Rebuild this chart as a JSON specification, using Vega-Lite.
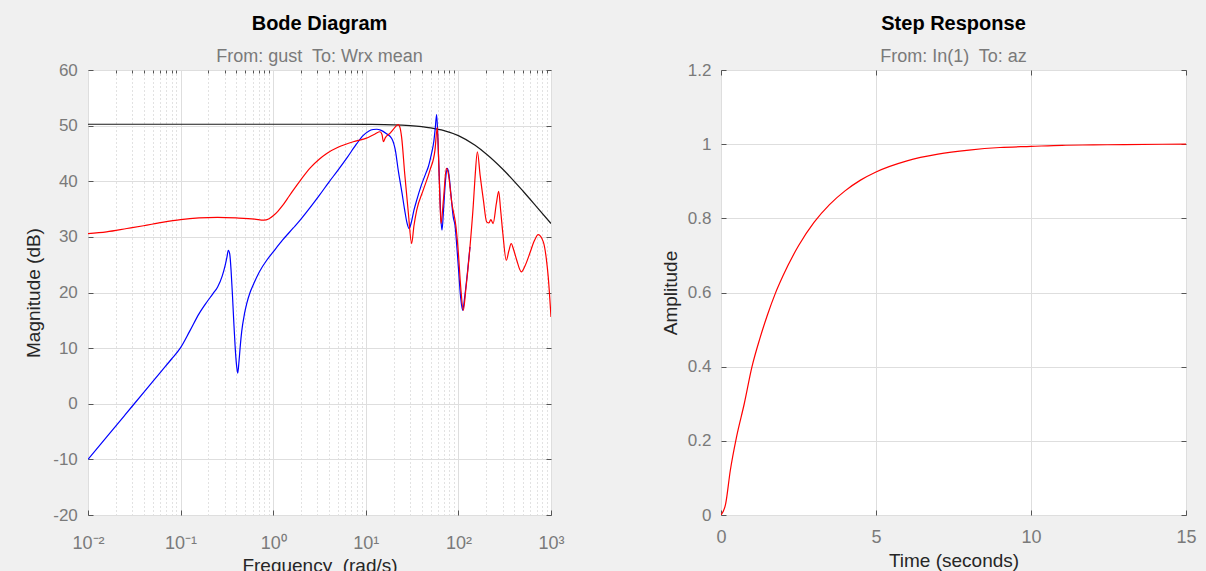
{
  "$schema": "https://vega.github.io/schema/vega-lite/v6.json",
  "background": "#f0f0f0",
  "padding": {"left": 23, "top": 13, "right": 10, "bottom": 0},
  "spacing": 170,
  "bounds": "flush",
  "config": {
    "font": "Liberation Sans",
    "view": {"fill": "white", "stroke": "#6f6f6f", "strokeWidth": 1},
    "axis": {
      "labelFont": "Liberation Sans", "labelFontSize": 17, "labelColor": "#7a7a7a",
      "titleFont": "Liberation Sans", "titleFontSize": 19, "titleFontWeight": "normal", "titleColor": "#262626",
      "domain": false, "tickColor": "#555555", "tickSize": -5,
      "gridColor": "#dedede", "labelFlush": false, "labelOverlap": false
    },
    "title": {
      "font": "Liberation Sans", "fontSize": 20, "fontWeight": "bold", "color": "#000000",
      "subtitleFont": "Liberation Sans", "subtitleFontSize": 18, "subtitleColor": "#7a7a7a",
      "anchor": "middle", "offset": -5, "subtitlePadding": 14
    }
  },
  "datasets": {
    "black": [
      {"f": 0.01, "db": 50.25}, {"f": 0.1, "db": 50.25}, {"f": 1, "db": 50.25}, {"f": 5, "db": 50.25},
      {"f": 10, "db": 50.22}, {"f": 20, "db": 50.15}, {"f": 30, "db": 50.0}, {"f": 50, "db": 49.6},
      {"f": 70, "db": 49.1}, {"f": 100, "db": 48.2}, {"f": 150, "db": 46.5}, {"f": 200, "db": 44.9},
      {"f": 300, "db": 42.2}, {"f": 500, "db": 38.2}, {"f": 700, "db": 35.4}, {"f": 1000, "db": 32.4}
    ],
    "blue": [
      {"f": 0.01, "db": -10}, {"f": 0.01585, "db": -6}, {"f": 0.02512, "db": -2}, {"f": 0.03981, "db": 2},
      {"f": 0.0631, "db": 6}, {"f": 0.07943, "db": 8}, {"f": 0.1, "db": 10.1}, {"f": 0.1259, "db": 13.1},
      {"f": 0.1585, "db": 16.2}, {"f": 0.1905, "db": 18.2}, {"f": 0.2239, "db": 19.8}, {"f": 0.2512, "db": 21.0},
      {"f": 0.2818, "db": 23.0}, {"f": 0.302, "db": 24.8}, {"f": 0.3162, "db": 26.3}, {"f": 0.3273, "db": 27.6},
      {"f": 0.3388, "db": 27.0}, {"f": 0.3508, "db": 24.0}, {"f": 0.3631, "db": 19.5}, {"f": 0.3758, "db": 14.5},
      {"f": 0.389, "db": 10.0}, {"f": 0.4027, "db": 6.8}, {"f": 0.414, "db": 5.5}, {"f": 0.4266, "db": 7.5},
      {"f": 0.4416, "db": 10.5}, {"f": 0.4571, "db": 13.0}, {"f": 0.4898, "db": 16.2}, {"f": 0.5176, "db": 18.0},
      {"f": 0.5623, "db": 20.0}, {"f": 0.6095, "db": 21.4}, {"f": 0.7079, "db": 23.7}, {"f": 0.8511, "db": 25.8},
      {"f": 1, "db": 27.3}, {"f": 1.259, "db": 29.4}, {"f": 1.648, "db": 31.6}, {"f": 1.995, "db": 33.2},
      {"f": 2.512, "db": 35.3}, {"f": 3.162, "db": 37.5}, {"f": 3.981, "db": 39.8}, {"f": 5.012, "db": 42.0},
      {"f": 6.31, "db": 44.3}, {"f": 7.943, "db": 46.7}, {"f": 9.333, "db": 48.2}, {"f": 10.72, "db": 49.0},
      {"f": 12.02, "db": 49.3}, {"f": 13.12, "db": 49.35}, {"f": 14.45, "db": 49.2}, {"f": 16.6, "db": 48.6},
      {"f": 19.05, "db": 47.7}, {"f": 20.89, "db": 45.5}, {"f": 22.39, "db": 42.0}, {"f": 24.55, "db": 38.0},
      {"f": 26.3, "db": 34.8}, {"f": 27.86, "db": 32.5}, {"f": 29.31, "db": 31.5}, {"f": 30.9, "db": 32.5},
      {"f": 33.11, "db": 34.8}, {"f": 35.48, "db": 36.6}, {"f": 39.81, "db": 39.3}, {"f": 44.67, "db": 41.5},
      {"f": 47.32, "db": 42.6}, {"f": 51.29, "db": 45.0}, {"f": 54.33, "db": 47.2}, {"f": 56.23, "db": 49.5},
      {"f": 58.21, "db": 52.0}, {"f": 60.26, "db": 47.0}, {"f": 62.37, "db": 40.0}, {"f": 64.57, "db": 33.5},
      {"f": 66.53, "db": 31.2}, {"f": 69.18, "db": 35.0}, {"f": 72.44, "db": 40.0}, {"f": 75.86, "db": 42.3},
      {"f": 78.52, "db": 41.5}, {"f": 83.18, "db": 37.5}, {"f": 88.1, "db": 33.5}, {"f": 92.04, "db": 32.0},
      {"f": 94.41, "db": 30.0}, {"f": 100, "db": 24.5}, {"f": 105.9, "db": 19.0}, {"f": 111.2, "db": 16.8},
      {"f": 117.5, "db": 19.5}, {"f": 125.9, "db": 24.0}, {"f": 133.4, "db": 28.2}
    ],
    "red": [
      {"f": 0.01, "db": 30.6}, {"f": 0.01585, "db": 30.9}, {"f": 0.0263, "db": 31.5}, {"f": 0.03981, "db": 32.0},
      {"f": 0.0631, "db": 32.6}, {"f": 0.1, "db": 33.1}, {"f": 0.1585, "db": 33.4}, {"f": 0.2512, "db": 33.5},
      {"f": 0.3981, "db": 33.4}, {"f": 0.631, "db": 33.2}, {"f": 0.7943, "db": 33.0}, {"f": 0.8913, "db": 33.2},
      {"f": 1, "db": 33.8}, {"f": 1.122, "db": 34.6}, {"f": 1.259, "db": 35.6}, {"f": 1.413, "db": 36.8},
      {"f": 1.648, "db": 38.4}, {"f": 1.995, "db": 40.3}, {"f": 2.512, "db": 42.4}, {"f": 3.162, "db": 44.0},
      {"f": 3.784, "db": 45.0}, {"f": 5.012, "db": 46.1}, {"f": 7.328, "db": 47.1}, {"f": 10, "db": 47.7},
      {"f": 12.59, "db": 48.5}, {"f": 14.22, "db": 48.9}, {"f": 14.96, "db": 48.4}, {"f": 15.49, "db": 47.1},
      {"f": 16.22, "db": 47.8}, {"f": 18.2, "db": 48.6}, {"f": 20.42, "db": 49.6}, {"f": 22.39, "db": 50.2},
      {"f": 23.44, "db": 49.6}, {"f": 24.38, "db": 47.9}, {"f": 26.3, "db": 41.4}, {"f": 28.84, "db": 34.2},
      {"f": 31.26, "db": 28.8}, {"f": 33.11, "db": 32.0}, {"f": 35.48, "db": 34.8}, {"f": 41.69, "db": 38.4},
      {"f": 49.32, "db": 42.0}, {"f": 55.85, "db": 45.6}, {"f": 59.16, "db": 49.7}, {"f": 61.94, "db": 41.0},
      {"f": 64.86, "db": 32.4}, {"f": 69.18, "db": 37.0}, {"f": 74.13, "db": 42.3}, {"f": 77.62, "db": 41.5},
      {"f": 85.11, "db": 36.0}, {"f": 94.19, "db": 31.8}, {"f": 100, "db": 27.0}, {"f": 105.9, "db": 21.0},
      {"f": 113.0, "db": 16.8}, {"f": 120.2, "db": 20.5}, {"f": 133.4, "db": 28.2}, {"f": 144.5, "db": 35.5},
      {"f": 151.4, "db": 40.8}, {"f": 160.3, "db": 45.3}, {"f": 171.8, "db": 41.0}, {"f": 186.2, "db": 36.6},
      {"f": 201.8, "db": 32.7}, {"f": 213.8, "db": 32.5}, {"f": 223.9, "db": 33.1}, {"f": 237.1, "db": 32.4},
      {"f": 257.0, "db": 36.0}, {"f": 272.3, "db": 38.2}, {"f": 285.1, "db": 35.0}, {"f": 302.0, "db": 30.6},
      {"f": 328.9, "db": 25.8}, {"f": 350.8, "db": 27.5}, {"f": 371.5, "db": 28.8}, {"f": 398.1, "db": 27.5},
      {"f": 426.6, "db": 25.8}, {"f": 478.6, "db": 23.7}, {"f": 524.8, "db": 24.8}, {"f": 588.8, "db": 27.0},
      {"f": 660.7, "db": 29.3}, {"f": 727.8, "db": 30.4}, {"f": 826.0, "db": 29.1}, {"f": 891.3, "db": 26.0},
      {"f": 933.3, "db": 22.8}, {"f": 1000, "db": 15.6}
    ],
    "step": [
      {"t": 0, "amp": 0}, {"t": 0.15, "amp": 0.03}, {"t": 0.3, "amp": 0.12}, {"t": 0.5, "amp": 0.21},
      {"t": 0.75, "amp": 0.30}, {"t": 1.0, "amp": 0.40}, {"t": 1.25, "amp": 0.475}, {"t": 1.5, "amp": 0.54},
      {"t": 1.75, "amp": 0.597}, {"t": 2.0, "amp": 0.645}, {"t": 2.5, "amp": 0.726}, {"t": 3.0, "amp": 0.789},
      {"t": 3.5, "amp": 0.837}, {"t": 4.0, "amp": 0.874}, {"t": 4.5, "amp": 0.903}, {"t": 5.0, "amp": 0.925},
      {"t": 6.0, "amp": 0.955}, {"t": 7.0, "amp": 0.973}, {"t": 8.0, "amp": 0.984}, {"t": 9.0, "amp": 0.991},
      {"t": 10.0, "amp": 0.994}, {"t": 11.0, "amp": 0.997}, {"t": 12.0, "amp": 0.998}, {"t": 13.0, "amp": 0.999},
      {"t": 15.0, "amp": 1.0}
    ]
  },
  "hconcat": [
    {
      "width": 463,
      "height": 445,
      "title": {"text": "Bode Diagram", "subtitle": "From: gust\u00a0 To: Wrx mean"},
      "layer": [
        {
          "data": {"name": "black"},
          "mark": {"type": "line", "color": "#1a1a1a", "strokeWidth": 1.2, "clip": true, "interpolate": "monotone"},
          "encoding": {
            "x": {
              "field": "f", "type": "quantitative",
              "scale": {"type": "log", "domain": [0.01, 1000], "nice": false},
              "axis": {
                "orient": "bottom", "values": [0.01, 0.1, 1, 10, 100, 1000],
                "labelExpr": "datum.value < 0.05 ? '10⁻²' : datum.value < 0.5 ? '10⁻¹' : datum.value < 5 ? '10⁰' : datum.value < 50 ? '10¹' : datum.value < 500 ? '10²' : '10³'",
                "title": "Frequency\u00a0 (rad/s)", "titleY": 41, "labelPadding": 24.5, "labelFontSize": 18, "grid": true
              }
            },
            "y": {
              "field": "db", "type": "quantitative",
              "scale": {"domain": [-20, 60], "nice": false, "zero": false},
              "axis": {
                "orient": "left", "values": [-20, -10, 0, 10, 20, 30, 40, 50, 60],
                "labelExpr": "'' + datum.value",
                "title": "Magnitude (dB)", "titleX": -45, "labelPadding": 15.7, "grid": true
              }
            }
          }
        },
        {
          "data": {"name": "blue"},
          "mark": {"type": "line", "color": "#0000ff", "strokeWidth": 1.2, "clip": true, "interpolate": "monotone"},
          "encoding": {
            "x": {
              "field": "f", "type": "quantitative",
              "scale": {"type": "log", "domain": [0.01, 1000], "nice": false},
              "axis": {
                "orient": "top",
                "values": [0.02, 0.03, 0.04, 0.05, 0.06, 0.07, 0.08, 0.09, 0.2, 0.3, 0.4, 0.5, 0.6, 0.7, 0.8, 0.9, 2, 3, 4, 5, 6, 7, 8, 9, 20, 30, 40, 50, 60, 70, 80, 90, 200, 300, 400, 500, 600, 700, 800, 900],
                "labels": false, "title": null, "grid": true, "gridDash": [1, 3], "gridColor": "#c4c4c4", "tickSize": -3
              }
            },
            "y": {
              "field": "db", "type": "quantitative",
              "scale": {"domain": [-20, 60], "nice": false, "zero": false},
              "axis": {"orient": "right", "values": [-20, -10, 0, 10, 20, 30, 40, 50, 60], "labels": false, "title": null, "grid": false}
            }
          }
        },
        {
          "data": {"name": "red"},
          "mark": {"type": "line", "color": "#ff0000", "strokeWidth": 1.2, "clip": true, "interpolate": "monotone"},
          "encoding": {
            "x": {"field": "f", "type": "quantitative", "scale": {"type": "log", "domain": [0.01, 1000], "nice": false}, "axis": null},
            "y": {"field": "db", "type": "quantitative", "scale": {"domain": [-20, 60], "nice": false, "zero": false}, "axis": null}
          }
        }
      ],
      "resolve": {"axis": {"x": "independent", "y": "independent"}}
    },
    {
      "width": 465,
      "height": 445,
      "title": {"text": "Step Response", "subtitle": "From: In(1)\u00a0 To: az"},
      "layer": [
        {
          "data": {"name": "step"},
          "mark": {"type": "line", "color": "#ff0000", "strokeWidth": 1.2, "clip": true, "interpolate": "monotone"},
          "encoding": {
            "x": {
              "field": "t", "type": "quantitative",
              "scale": {"domain": [0, 15], "nice": false},
              "axis": {"orient": "bottom", "values": [0, 5, 10, 15], "title": "Time (seconds)", "titleY": 36, "labelPadding": 18.5, "labelFontSize": 18, "grid": true}
            },
            "y": {
              "field": "amp", "type": "quantitative",
              "scale": {"domain": [0, 1.2], "nice": false},
              "axis": {"orient": "left", "values": [0, 0.2, 0.4, 0.6, 0.8, 1, 1.2], "labelExpr": "'' + datum.value", "title": "Amplitude", "titleX": -41, "labelPadding": 15, "grid": true}
            }
          }
        },
        {
          "data": {"name": "step"},
          "mark": {"type": "line", "color": "#ff0000", "strokeOpacity": 0, "clip": true},
          "encoding": {
            "x": {
              "field": "t", "type": "quantitative",
              "scale": {"domain": [0, 15], "nice": false},
              "axis": {"orient": "top", "values": [0, 5, 10, 15], "labels": false, "title": null, "grid": false}
            },
            "y": {
              "field": "amp", "type": "quantitative",
              "scale": {"domain": [0, 1.2], "nice": false},
              "axis": {"orient": "right", "values": [0, 0.2, 0.4, 0.6, 0.8, 1, 1.2], "labels": false, "title": null, "grid": false}
            }
          }
        }
      ],
      "resolve": {"axis": {"x": "independent", "y": "independent"}}
    }
  ]
}
